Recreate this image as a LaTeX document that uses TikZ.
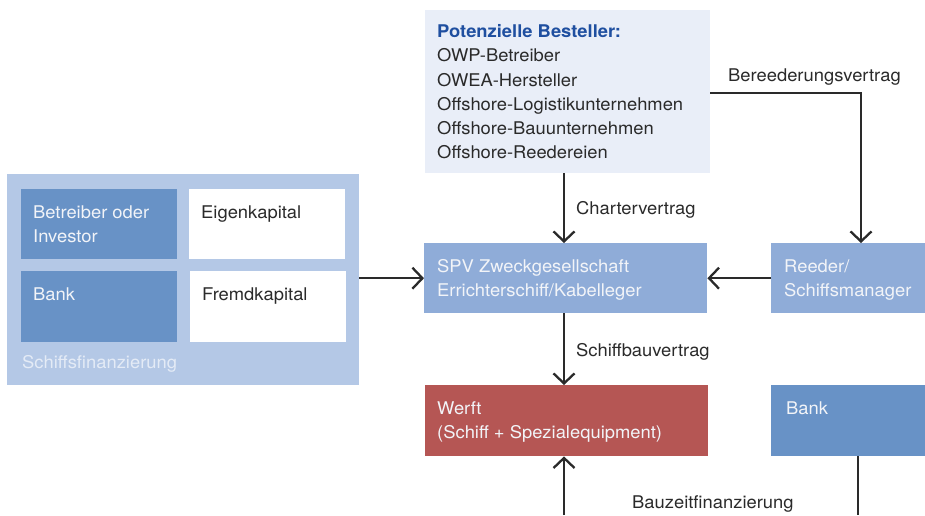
\documentclass[tikz,border=0pt]{standalone}
\usepackage{fontspec}
\setmainfont[FakeStretch=1.05]{TeX Gyre Heros}
\usetikzlibrary{arrows.meta}
\definecolor{topfill}{HTML}{E9EEF8}
\definecolor{groupfill}{HTML}{B4C8E6}
\definecolor{darkblue}{HTML}{6892C6}
\definecolor{midblue}{HTML}{8FACD8}
\definecolor{werftred}{HTML}{B55654}
\definecolor{titleblue}{HTML}{1F4FA0}
\definecolor{txt}{HTML}{2A2A2A}
\definecolor{wtxt}{HTML}{F2F4F8}
\definecolor{lighttxt}{HTML}{E4EBF6}
\begin{document}
\begin{tikzpicture}[x=1pt,y=-1pt,
  box/.style={draw=none,inner sep=0pt,anchor=north west},
  lbl/.style={inner sep=0pt,anchor=north west,align=left,font=\fontsize{17.5}{24.2}\selectfont},
  one/.style={inner sep=0pt,anchor=base west,font=\fontsize{17.5}{24.2}\selectfont},
  conn/.style={line width=2.3pt,draw=txt},
  arr/.style={conn,-{Straight Barb[length=10pt,width=21pt]}}
]
\useasboundingbox (0,0) rectangle (925,515);
% top box
\node[box,fill=topfill,minimum width=285pt,minimum height=163pt] (top) at (425,10) {};
\node[lbl,text=txt] (toptext) at (437,24.5) {\textcolor{titleblue}{\bfseries Potenzielle Besteller:}\\OWP-Betreiber\\OWEA-Hersteller\\Offshore-Logistikunternehmen\\Offshore-Bauunternehmen\\Offshore-Reedereien};
% left group
\node[box,fill=groupfill,minimum width=352pt,minimum height=211pt] (grp) at (7,174) {};
\node[box,fill=darkblue,minimum width=156pt,minimum height=70pt] (betr) at (21,189) {};
\node[box,fill=white,minimum width=156pt,minimum height=70pt] (eigen) at (189,189) {};
\node[box,fill=darkblue,minimum width=156pt,minimum height=71pt] (bankl) at (21,271) {};
\node[box,fill=white,minimum width=156pt,minimum height=71pt] (fremd) at (190,271) {};
\node[lbl,text=wtxt] (betrt) at (33,205.5) {Betreiber oder\\Investor};
\node[one,text=txt] (eigent) at (201,218) {Eigenkapital};
\node[one,text=wtxt] (banklt) at (33,300) {Bank};
\node[one,text=txt] (fremdt) at (202,300) {Fremdkapital};
\node[one,text=lighttxt] (grpt) at (22,368) {Schiffsfinanzierung};
% SPV and Reeder
\node[box,fill=midblue,minimum width=283pt,minimum height=70pt] (spv) at (424,243) {};
\node[lbl,text=wtxt] (spvt) at (437,259.5) {SPV Zweckgesellschaft\\Errichterschiff/Kabelleger};
\node[box,fill=midblue,minimum width=154pt,minimum height=70pt] (reeder) at (771,243) {};
\node[lbl,text=wtxt] (reedert) at (784,259.5) {Reeder/\\Schiffsmanager};
% Werft and Bank
\node[box,fill=werftred,minimum width=283pt,minimum height=71pt] (werft) at (425,385) {};
\node[lbl,text=wtxt] (werftt) at (437,401.5) {Werft\\(Schiff + Spezialequipment)};
\node[box,fill=darkblue,minimum width=154pt,minimum height=71pt] (bankr) at (771,385) {};
\node[one,text=wtxt] (bankrt) at (786,414) {Bank};
% labels
\node[one,text=txt] (lbere) at (728,81) {Bereederungsvertrag};
\node[one,text=txt] (lchart) at (576,214) {Chartervertrag};
\node[one,text=txt] (lbau) at (576,356) {Schiffbauvertrag};
\node[one,text=txt] (lbzf) at (632,508) {Bauzeitfinanzierung};
% connectors
\coordinate (c1) at (861,93);
\coordinate (bot1) at (564,515);
\coordinate (bot2) at (858,515);
\draw[arr] (top.east |- c1) -- (c1) -- (c1 |- reeder.north);
\draw[arr] (top.south -| bot1) -- (spv.north -| bot1);
\draw[arr] (grp.east |- spv.west) -- (spv.west);
\draw[arr] (reeder.west) -- (spv.east);
\draw[arr] (spv.south -| bot1) -- (werft.north -| bot1);
\draw[arr] (bot1) -- (werft.south -| bot1);
\draw[conn] (bankr.south -| bot2) -- (bot2);
\end{tikzpicture}
\end{document}
